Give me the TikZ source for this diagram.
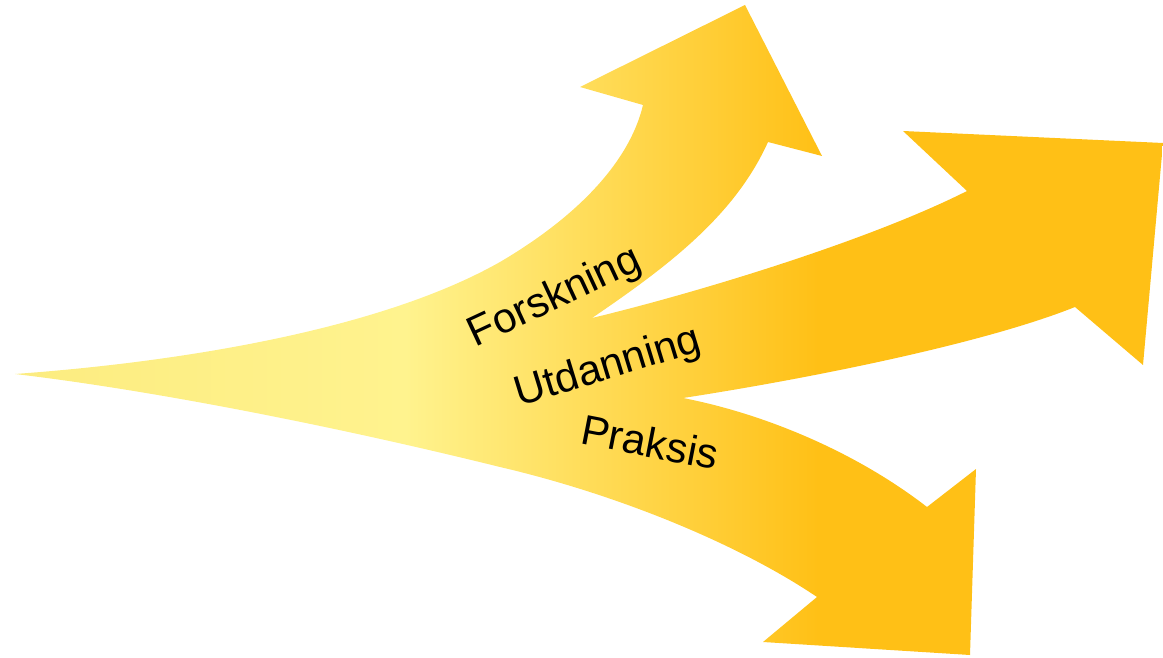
\documentclass[tikz,border=0pt]{standalone}
\usepackage{fontspec}
\setmainfont{Liberation Sans}
\definecolor{tailyellow}{RGB}{252,236,128}
\definecolor{paleyellow}{RGB}{255,243,142}
\definecolor{deepyellow}{RGB}{255,192,22}
\pgfdeclarehorizontalshading{arrowfade}{100bp}{color(0bp)=(tailyellow); color(25bp)=(tailyellow); color(42bp)=(paleyellow); color(60bp)=(deepyellow); color(100bp)=(deepyellow)}

\begin{document}
\begin{tikzpicture}[x=0.02cm, y=-0.02cm, branch text/.style={font=\fontsize{24}{28}\selectfont, inner sep=0pt}]

          \useasboundingbox (0,0) rectangle (1163,658);

          % the three arrows as one shape
          \shade[shading=arrowfade] (15,374)
            .. controls (180,362) and (380,330) .. (500,262)
            .. controls (580,215) and (630,160) .. (643,105)
            -- (580,87) -- (745,5) -- (822,156) -- (768,142)
            .. controls (735,215) and (670,265) .. (592,318)
            .. controls (700,292) and (870,240) .. (967,191)
            -- (903,131) -- (1163,143) -- (1143,365) -- (1075,307)
            .. controls (980,345) and (800,380) .. (683,398)
            .. controls (770,415) and (860,455) .. (927,507)
            -- (976,469) -- (970,655) -- (763,642) -- (817,597)
            .. controls (740,545) and (620,495) .. (500,467)
            .. controls (330,425) and (150,390) .. (15,374) -- cycle;

          \node[branch text, rotate=25] (forskning) at (555,298) {Forskning};
          \node[branch text, rotate=17] (utdanning) at (608,368) {Utdanning};
          \node[branch text, rotate=-11] (praksis) at (650,442) {Praksis};
        \end{tikzpicture}
\end{document}
